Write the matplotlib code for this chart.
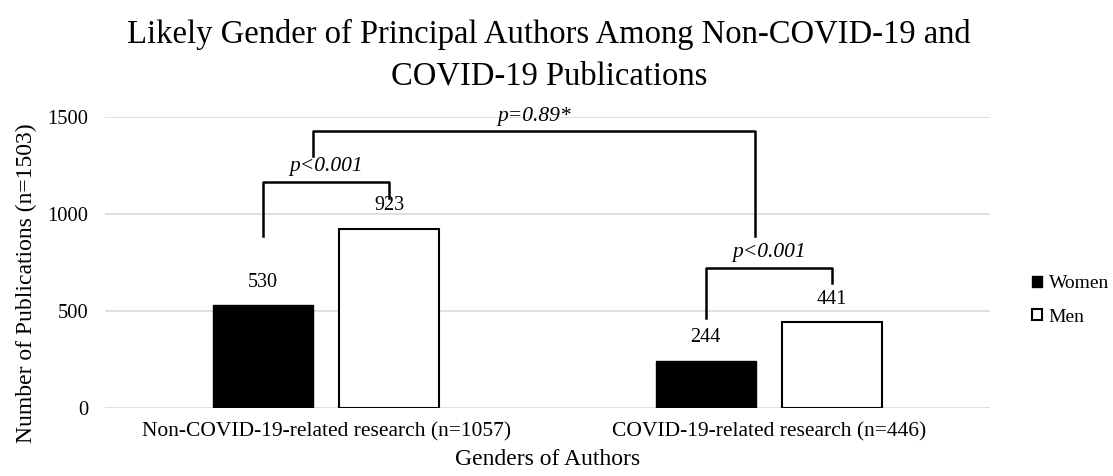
import matplotlib.pyplot as plt
import numpy as np

plt.rcParams['font.family'] = ['Liberation Serif', 'DejaVu Serif']

# chart data
categories = ['Non-COVID-19-related research (n=1057)', 'COVID-19-related research (n=446)']
women = [530, 244]
men = [923, 441]

# significance annotations: (x-left, x-right, y-left-end, y-right-end, y-top, label)
brackets = [
    (-0.142, 0.142, 887, 1082, 1164, 'p<0.001'),
    (0.858, 1.142, 462, 646, 723, 'p<0.001'),
    (-0.03, 0.97, 1297, 887, 1426, 'p=0.89*'),
]

fig = plt.figure(figsize=(11.13, 4.76), dpi=100)
ax = fig.add_axes([0.0943, 0.1429, 0.7952, 0.6113])

x = np.arange(len(categories))
w = 0.226
off = 0.1425
b1 = ax.bar(x - off, women, w, color='black', edgecolor='black', label='Women', zorder=3)
b2 = ax.bar(x + off, men, w, color='white', edgecolor='black', linewidth=1.5, label='Men', zorder=3)

for bars, vals in ((b1, women), (b2, men)):
    for r, v in zip(bars, vals):
        ax.text(r.get_x() + r.get_width() / 2, v + 70, str(v), ha='center', va='bottom', fontsize=14.5)

for xl, xr, yl, yr, yt, lab in brackets:
    ax.plot([xl, xl, xr, xr], [yl, yt, yt, yr], color='black', linewidth=1.8, clip_on=False, zorder=4)
    ax.text((xl + xr) / 2, yt + 30, lab, ha='center', va='bottom', fontsize=15.5, style='italic')

ax.set_xlim(-0.5, 1.5)
ax.set_ylim(0, 1500)
ax.set_yticks([0, 500, 1000, 1500])
ax.set_xticks(x)
ax.set_xticklabels(categories, fontsize=15.5)
ax.tick_params(axis='y', labelsize=14.8, length=0, pad=12)
ax.tick_params(axis='x', length=0, pad=10)
ax.grid(axis='y', color='#d9d9d9', linewidth=1.2, zorder=0)
for s in ax.spines.values():
    s.set_visible(False)

ax.set_ylabel('Number of Publications (n=1503)', fontsize=17)
ax.yaxis.set_label_coords(-0.077, 0.43)
ax.set_xlabel('Genders of Authors', fontsize=17, labelpad=6)

fig.text(0.493, 0.884, 'Likely Gender of Principal Authors Among Non-COVID-19 and\nCOVID-19 Publications',
         ha='center', va='center', fontsize=23.5, linespacing=1.5)

ax.legend(handles=[b1, b2], loc='center left', bbox_to_anchor=(1.028, 0.37), frameon=False,
          fontsize=14, handlelength=0.5, handleheight=0.5, handletextpad=0.35, labelspacing=0.85)

fig.savefig('out.png', dpi=100)
